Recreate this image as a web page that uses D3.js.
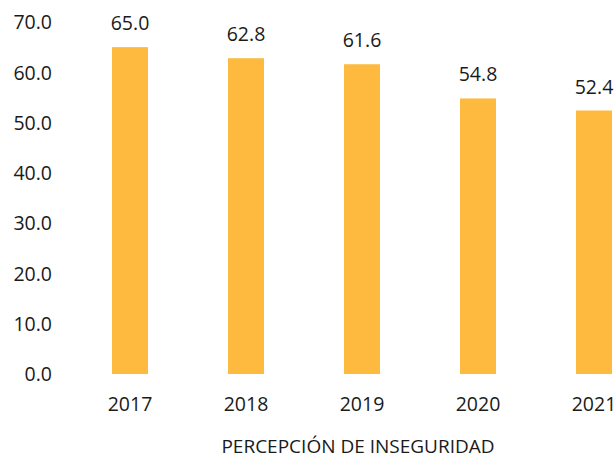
<!DOCTYPE html>
<html><head><meta charset="utf-8">
<script src="https://cdn.jsdelivr.net/npm/d3@7"></script>
<style>html,body{margin:0;padding:0;background:#fff;}</style>
</head><body>
<svg id="c" width="616" height="458"></svg>
<script>
const years = ["2017","2018","2019","2020","2021"];
const values = [65.0, 62.8, 61.6, 54.8, 52.4];
const yTicks = [0,10,20,30,40,50,60,70];
const title = "PERCEPCIÓN DE INSEGURIDAD";

const svg = d3.select("#c");
const font = "'Open Sans', sans-serif";
const x = d3.scaleBand().domain(years).range([72, 652]).paddingInner(0.69).paddingOuter(0.345);
const y = d3.scaleLinear().domain([0, 70]).range([374, 22]);

const yAxis = svg.append("g").attr("transform","translate(52,0)")
  .call(d3.axisLeft(y).tickValues(yTicks).tickFormat(d3.format(".1f")).tickSize(0).tickPadding(0));
yAxis.select(".domain").remove();
yAxis.selectAll("text").attr("font-family", font).attr("font-size", 19.5).attr("fill","#1a1a1a").attr("dy","0.35em");

svg.append("g").selectAll("rect").data(values).join("rect")
  .attr("x", (d,i)=>x(years[i])).attr("width", x.bandwidth())
  .attr("y", d=>y(d)).attr("height", d=>y(0)-y(d))
  .attr("fill", "#FDBA3F");

svg.append("g").selectAll("text").data(values).join("text")
  .attr("x", (d,i)=>x(years[i])+x.bandwidth()/2).attr("y", d=>y(d)-17)
  .attr("text-anchor","middle").attr("font-family", font).attr("font-size", 19.5).attr("fill","#1a1a1a")
  .text(d=>d.toFixed(1));

const xAxis = svg.append("g").attr("transform","translate(0,374)")
  .call(d3.axisBottom(x).tickSize(0).tickPadding(23));
xAxis.select(".domain").remove();
xAxis.selectAll("text").attr("font-family", font).attr("font-size", 19.5).attr("fill","#1a1a1a");

svg.append("text").attr("x", 358).attr("y", 453).attr("text-anchor","middle")
  .attr("font-family", font).attr("font-size", 19).attr("fill","#1a1a1a").text(title);
</script>
</body></html>
